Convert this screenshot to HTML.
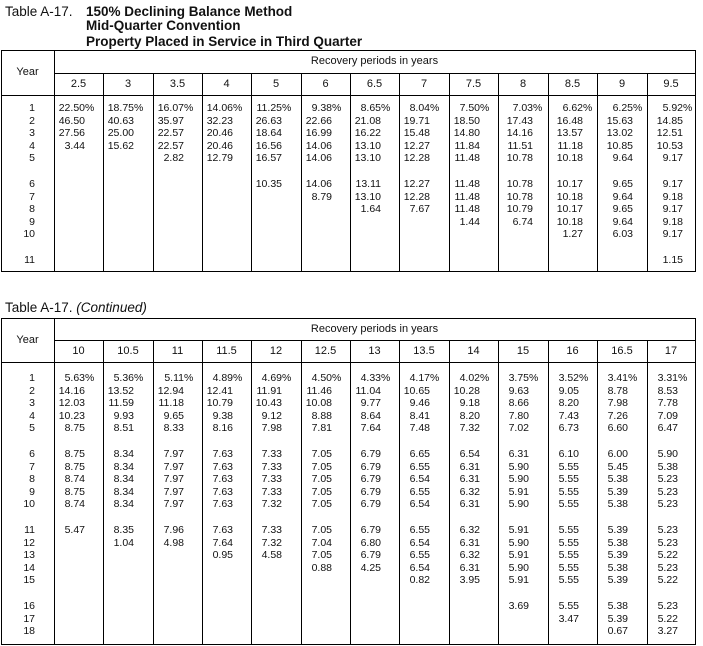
<!DOCTYPE html>
<html><head><meta charset="utf-8"><style>
*{margin:0;padding:0}
body{width:703px;height:646px;background:#fff;position:relative;overflow:hidden;font-family:"Liberation Sans",Arial,sans-serif;color:#111;font-size:10.5px}
.t{position:absolute;font-size:13.5px;white-space:nowrap}
.b{font-weight:bold}
.ln{position:absolute;background:#000}
.c{position:absolute;line-height:12.5px;white-space:nowrap}
.c i{font-style:normal;display:inline-block;width:28px;text-align:right}
.g1{height:13.5px}
.h{position:absolute;text-align:center;white-space:nowrap;font-size:11px}
.y{position:absolute;width:21px;text-align:right;line-height:12.5px}
</style></head><body>
<div class="t" style="left:5px;top:4px">Table A-17.</div>
<div class="t b" style="left:86px;top:4px">150% Declining Balance Method</div>
<div class="t b" style="left:86px;top:18px">Mid-Quarter Convention</div>
<div class="t b" style="left:86px;top:34px">Property Placed in Service in Third Quarter</div>

<div class="ln" style="left:1px;top:50px;width:695px;height:1px"></div>
<div class="ln" style="left:54px;top:73px;width:642px;height:1px"></div>
<div class="ln" style="left:1px;top:95px;width:695px;height:1px"></div>
<div class="ln" style="left:1px;top:271px;width:695px;height:1px"></div>
<div class="ln" style="left:1px;top:50px;width:1px;height:222px"></div>
<div class="ln" style="left:54px;top:50px;width:1px;height:222px"></div>
<div class="ln" style="left:695px;top:50px;width:1px;height:222px"></div>
<div class="ln" style="left:103px;top:73px;width:1px;height:199px"></div>
<div class="ln" style="left:153px;top:73px;width:1px;height:199px"></div>
<div class="ln" style="left:202px;top:73px;width:1px;height:199px"></div>
<div class="ln" style="left:251px;top:73px;width:1px;height:199px"></div>
<div class="ln" style="left:301px;top:73px;width:1px;height:199px"></div>
<div class="ln" style="left:350px;top:73px;width:1px;height:199px"></div>
<div class="ln" style="left:399px;top:73px;width:1px;height:199px"></div>
<div class="ln" style="left:449px;top:73px;width:1px;height:199px"></div>
<div class="ln" style="left:498px;top:73px;width:1px;height:199px"></div>
<div class="ln" style="left:548px;top:73px;width:1px;height:199px"></div>
<div class="ln" style="left:597px;top:73px;width:1px;height:199px"></div>
<div class="ln" style="left:647px;top:73px;width:1px;height:199px"></div>

<div class="h" style="left:1px;width:53px;top:66px">Year</div>
<div class="h" style="left:54px;width:641px;top:55px">Recovery periods in years</div>
<div class="h" style="left:54px;width:49px;top:78px">2.5</div>
<div class="h" style="left:103px;width:50px;top:78px">3</div>
<div class="h" style="left:153px;width:49px;top:78px">3.5</div>
<div class="h" style="left:202px;width:49px;top:78px">4</div>
<div class="h" style="left:251px;width:50px;top:78px">5</div>
<div class="h" style="left:301px;width:49px;top:78px">6</div>
<div class="h" style="left:350px;width:49px;top:78px">6.5</div>
<div class="h" style="left:399px;width:50px;top:78px">7</div>
<div class="h" style="left:449px;width:49px;top:78px">7.5</div>
<div class="h" style="left:498px;width:50px;top:78px">8</div>
<div class="h" style="left:548px;width:49px;top:78px">8.5</div>
<div class="h" style="left:597px;width:50px;top:78px">9</div>
<div class="h" style="left:647px;width:48px;top:78px">9.5</div>

<div class="y" style="left:14px;top:102px">1<br>2<br>3<br>4<br>5<div class="g1"></div>6<br>7<br>8<br>9<br>10<div class="g1"></div>11</div>

<div class="c" style="left:57px;top:102px"><i>22.50</i>%<br><i>46.50</i><br><i>27.56</i><br><i>3.44</i></div>
<div class="c" style="left:106px;top:102px"><i>18.75</i>%<br><i>40.63</i><br><i>25.00</i><br><i>15.62</i></div>
<div class="c" style="left:156px;top:102px"><i>16.07</i>%<br><i>35.97</i><br><i>22.57</i><br><i>22.57</i><br><i>2.82</i></div>
<div class="c" style="left:205px;top:102px"><i>14.06</i>%<br><i>32.23</i><br><i>20.46</i><br><i>20.46</i><br><i>12.79</i></div>
<div class="c" style="left:254px;top:102px"><i>11.25</i>%<br><i>26.63</i><br><i>18.64</i><br><i>16.56</i><br><i>16.57</i><div class="g1"></div><i>10.35</i></div>
<div class="c" style="left:304px;top:102px"><i>9.38</i>%<br><i>22.66</i><br><i>16.99</i><br><i>14.06</i><br><i>14.06</i><div class="g1"></div><i>14.06</i><br><i>8.79</i></div>
<div class="c" style="left:353px;top:102px"><i>8.65</i>%<br><i>21.08</i><br><i>16.22</i><br><i>13.10</i><br><i>13.10</i><div class="g1"></div><i>13.11</i><br><i>13.10</i><br><i>1.64</i></div>
<div class="c" style="left:402px;top:102px"><i>8.04</i>%<br><i>19.71</i><br><i>15.48</i><br><i>12.27</i><br><i>12.28</i><div class="g1"></div><i>12.27</i><br><i>12.28</i><br><i>7.67</i></div>
<div class="c" style="left:452px;top:102px"><i>7.50</i>%<br><i>18.50</i><br><i>14.80</i><br><i>11.84</i><br><i>11.48</i><div class="g1"></div><i>11.48</i><br><i>11.48</i><br><i>11.48</i><br><i>1.44</i></div>
<div class="c" style="left:505px;top:102px"><i>7.03</i>%<br><i>17.43</i><br><i>14.16</i><br><i>11.51</i><br><i>10.78</i><div class="g1"></div><i>10.78</i><br><i>10.78</i><br><i>10.79</i><br><i>6.74</i></div>
<div class="c" style="left:555px;top:102px"><i>6.62</i>%<br><i>16.48</i><br><i>13.57</i><br><i>11.18</i><br><i>10.18</i><div class="g1"></div><i>10.17</i><br><i>10.18</i><br><i>10.17</i><br><i>10.18</i><br><i>1.27</i></div>
<div class="c" style="left:605px;top:102px"><i>6.25</i>%<br><i>15.63</i><br><i>13.02</i><br><i>10.85</i><br><i>9.64</i><div class="g1"></div><i>9.65</i><br><i>9.64</i><br><i>9.65</i><br><i>9.64</i><br><i>6.03</i></div>
<div class="c" style="left:655px;top:102px"><i>5.92</i>%<br><i>14.85</i><br><i>12.51</i><br><i>10.53</i><br><i>9.17</i><div class="g1"></div><i>9.17</i><br><i>9.18</i><br><i>9.17</i><br><i>9.18</i><br><i>9.17</i><div class="g1"></div><i>1.15</i></div>

<div class="t" style="left:5px;top:300px">Table A-17. <em>(Continued)</em></div>
<div class="ln" style="left:1px;top:318px;width:695px;height:1px"></div>
<div class="ln" style="left:54px;top:340px;width:642px;height:1px"></div>
<div class="ln" style="left:1px;top:362px;width:695px;height:1px"></div>
<div class="ln" style="left:1px;top:644px;width:695px;height:1px"></div>
<div class="ln" style="left:1px;top:318px;width:1px;height:327px"></div>
<div class="ln" style="left:54px;top:318px;width:1px;height:327px"></div>
<div class="ln" style="left:695px;top:318px;width:1px;height:327px"></div>
<div class="ln" style="left:103px;top:340px;width:1px;height:305px"></div>
<div class="ln" style="left:153px;top:340px;width:1px;height:305px"></div>
<div class="ln" style="left:202px;top:340px;width:1px;height:305px"></div>
<div class="ln" style="left:251px;top:340px;width:1px;height:305px"></div>
<div class="ln" style="left:301px;top:340px;width:1px;height:305px"></div>
<div class="ln" style="left:350px;top:340px;width:1px;height:305px"></div>
<div class="ln" style="left:399px;top:340px;width:1px;height:305px"></div>
<div class="ln" style="left:449px;top:340px;width:1px;height:305px"></div>
<div class="ln" style="left:498px;top:340px;width:1px;height:305px"></div>
<div class="ln" style="left:548px;top:340px;width:1px;height:305px"></div>
<div class="ln" style="left:597px;top:340px;width:1px;height:305px"></div>
<div class="ln" style="left:647px;top:340px;width:1px;height:305px"></div>

<div class="h" style="left:1px;width:53px;top:334px">Year</div>
<div class="h" style="left:54px;width:641px;top:323px">Recovery periods in years</div>
<div class="h" style="left:54px;width:49px;top:345px">10</div>
<div class="h" style="left:103px;width:50px;top:345px">10.5</div>
<div class="h" style="left:153px;width:49px;top:345px">11</div>
<div class="h" style="left:202px;width:49px;top:345px">11.5</div>
<div class="h" style="left:251px;width:50px;top:345px">12</div>
<div class="h" style="left:301px;width:49px;top:345px">12.5</div>
<div class="h" style="left:350px;width:49px;top:345px">13</div>
<div class="h" style="left:399px;width:50px;top:345px">13.5</div>
<div class="h" style="left:449px;width:49px;top:345px">14</div>
<div class="h" style="left:498px;width:50px;top:345px">15</div>
<div class="h" style="left:548px;width:49px;top:345px">16</div>
<div class="h" style="left:597px;width:50px;top:345px">16.5</div>
<div class="h" style="left:647px;width:48px;top:345px">17</div>

<div class="y" style="left:14px;top:372px">1<br>2<br>3<br>4<br>5<div class="g1"></div>6<br>7<br>8<br>9<br>10<div class="g1"></div>11<br>12<br>13<br>14<br>15<div class="g1"></div>16<br>17<br>18</div>

<div class="c" style="left:57px;top:372px"><i>5.63</i>%<br><i>14.16</i><br><i>12.03</i><br><i>10.23</i><br><i>8.75</i><div class="g1"></div><i>8.75</i><br><i>8.75</i><br><i>8.74</i><br><i>8.75</i><br><i>8.74</i><div class="g1"></div><i>5.47</i></div>
<div class="c" style="left:106px;top:372px"><i>5.36</i>%<br><i>13.52</i><br><i>11.59</i><br><i>9.93</i><br><i>8.51</i><div class="g1"></div><i>8.34</i><br><i>8.34</i><br><i>8.34</i><br><i>8.34</i><br><i>8.34</i><div class="g1"></div><i>8.35</i><br><i>1.04</i></div>
<div class="c" style="left:156px;top:372px"><i>5.11</i>%<br><i>12.94</i><br><i>11.18</i><br><i>9.65</i><br><i>8.33</i><div class="g1"></div><i>7.97</i><br><i>7.97</i><br><i>7.97</i><br><i>7.97</i><br><i>7.97</i><div class="g1"></div><i>7.96</i><br><i>4.98</i></div>
<div class="c" style="left:205px;top:372px"><i>4.89</i>%<br><i>12.41</i><br><i>10.79</i><br><i>9.38</i><br><i>8.16</i><div class="g1"></div><i>7.63</i><br><i>7.63</i><br><i>7.63</i><br><i>7.63</i><br><i>7.63</i><div class="g1"></div><i>7.63</i><br><i>7.64</i><br><i>0.95</i></div>
<div class="c" style="left:254px;top:372px"><i>4.69</i>%<br><i>11.91</i><br><i>10.43</i><br><i>9.12</i><br><i>7.98</i><div class="g1"></div><i>7.33</i><br><i>7.33</i><br><i>7.33</i><br><i>7.33</i><br><i>7.32</i><div class="g1"></div><i>7.33</i><br><i>7.32</i><br><i>4.58</i></div>
<div class="c" style="left:304px;top:372px"><i>4.50</i>%<br><i>11.46</i><br><i>10.08</i><br><i>8.88</i><br><i>7.81</i><div class="g1"></div><i>7.05</i><br><i>7.05</i><br><i>7.05</i><br><i>7.05</i><br><i>7.05</i><div class="g1"></div><i>7.05</i><br><i>7.04</i><br><i>7.05</i><br><i>0.88</i></div>
<div class="c" style="left:353px;top:372px"><i>4.33</i>%<br><i>11.04</i><br><i>9.77</i><br><i>8.64</i><br><i>7.64</i><div class="g1"></div><i>6.79</i><br><i>6.79</i><br><i>6.79</i><br><i>6.79</i><br><i>6.79</i><div class="g1"></div><i>6.79</i><br><i>6.80</i><br><i>6.79</i><br><i>4.25</i></div>
<div class="c" style="left:402px;top:372px"><i>4.17</i>%<br><i>10.65</i><br><i>9.46</i><br><i>8.41</i><br><i>7.48</i><div class="g1"></div><i>6.65</i><br><i>6.55</i><br><i>6.54</i><br><i>6.55</i><br><i>6.54</i><div class="g1"></div><i>6.55</i><br><i>6.54</i><br><i>6.55</i><br><i>6.54</i><br><i>0.82</i></div>
<div class="c" style="left:452px;top:372px"><i>4.02</i>%<br><i>10.28</i><br><i>9.18</i><br><i>8.20</i><br><i>7.32</i><div class="g1"></div><i>6.54</i><br><i>6.31</i><br><i>6.31</i><br><i>6.32</i><br><i>6.31</i><div class="g1"></div><i>6.32</i><br><i>6.31</i><br><i>6.32</i><br><i>6.31</i><br><i>3.95</i></div>
<div class="c" style="left:501px;top:372px"><i>3.75</i>%<br><i>9.63</i><br><i>8.66</i><br><i>7.80</i><br><i>7.02</i><div class="g1"></div><i>6.31</i><br><i>5.90</i><br><i>5.90</i><br><i>5.91</i><br><i>5.90</i><div class="g1"></div><i>5.91</i><br><i>5.90</i><br><i>5.91</i><br><i>5.90</i><br><i>5.91</i><div class="g1"></div><i>3.69</i></div>
<div class="c" style="left:551px;top:372px"><i>3.52</i>%<br><i>9.05</i><br><i>8.20</i><br><i>7.43</i><br><i>6.73</i><div class="g1"></div><i>6.10</i><br><i>5.55</i><br><i>5.55</i><br><i>5.55</i><br><i>5.55</i><div class="g1"></div><i>5.55</i><br><i>5.55</i><br><i>5.55</i><br><i>5.55</i><br><i>5.55</i><div class="g1"></div><i>5.55</i><br><i>3.47</i></div>
<div class="c" style="left:600px;top:372px"><i>3.41</i>%<br><i>8.78</i><br><i>7.98</i><br><i>7.26</i><br><i>6.60</i><div class="g1"></div><i>6.00</i><br><i>5.45</i><br><i>5.38</i><br><i>5.39</i><br><i>5.38</i><div class="g1"></div><i>5.39</i><br><i>5.38</i><br><i>5.39</i><br><i>5.38</i><br><i>5.39</i><div class="g1"></div><i>5.38</i><br><i>5.39</i><br><i>0.67</i></div>
<div class="c" style="left:650px;top:372px"><i>3.31</i>%<br><i>8.53</i><br><i>7.78</i><br><i>7.09</i><br><i>6.47</i><div class="g1"></div><i>5.90</i><br><i>5.38</i><br><i>5.23</i><br><i>5.23</i><br><i>5.23</i><div class="g1"></div><i>5.23</i><br><i>5.23</i><br><i>5.22</i><br><i>5.23</i><br><i>5.22</i><div class="g1"></div><i>5.23</i><br><i>5.22</i><br><i>3.27</i></div>
</body></html>
